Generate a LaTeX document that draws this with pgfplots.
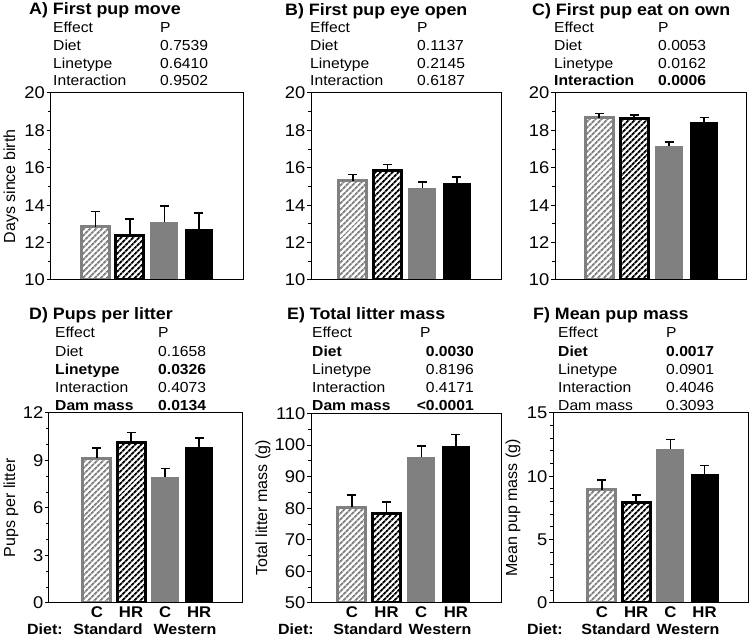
\documentclass[border=0pt]{standalone}
\usepackage{fontspec}
\setmainfont{Liberation Sans}[FakeStretch=1.08, BoldFeatures={FakeStretch=1.08}]
\newfontfamily\plainfont{Liberation Sans}
\usepackage{pgfplots}
\pgfplotsset{compat=1.18}
\usetikzlibrary{patterns.meta}
\definecolor{bgray}{RGB}{128,128,128}
\newcommand\fs[1]{\fontsize{#1}{#1}\selectfont}

\pgfplotsset{
  panel/.style={scale only axis, anchor=south west, axis on top, clip=true,
    axis line style={line width=1pt}, tick style={line width=1pt, black},
    major tick length=4pt, minor tick length=3pt, tick align=outside,
    ytick pos=left, xtick style={draw=none},
    /pgf/number format/assume math mode=true,
    yticklabel style={font=\fs{17}, inner sep=1.5pt},
    xticklabel style={font=\bfseries\fs{15.5}, anchor=base, inner sep=0pt, yshift=-11pt},
  },
  toprow/.style={panel, height=187pt, ymin=10, ymax=20, ytick={10,12,...,20}, minor y tick num=1, xtick=\empty},
  botrow/.style={panel, height=190pt, xtick={0,1,2,3}, xticklabels={C,HR,C,HR}},
  errs/.style={/pgfplots/error bars/y dir=plus, /pgfplots/error bars/y explicit,
    /pgfplots/error bars/error bar style={line width=1.5pt, black, solid},
    /pgfplots/error bars/error mark options={line width=1.5pt, black, solid, mark size=4.5pt, rotate=90}},
  bA/.style={ybar, bar width=28pt, bar shift=0pt, draw=bgray, line width=3pt, preaction={fill=white},
    pattern={Lines[angle=45,distance=4pt,line width=2pt]}, pattern color=bgray, errs},
  bB/.style={ybar, bar width=28pt, bar shift=0pt, draw=black, line width=3pt, preaction={fill=white},
    pattern={Lines[angle=45,distance=4pt,line width=2pt]}, pattern color=black, errs},
  bC/.style={ybar, bar width=28pt, bar shift=0pt, fill=bgray, draw=none, errs},
  bD/.style={ybar, bar width=28pt, bar shift=0pt, fill=black, draw=none, errs},
}
\tikzset{
  st/.style={anchor=base west, inner sep=0pt, font=\fs{14.5}},
  sb/.style={anchor=base west, inner sep=0pt, font=\bfseries\fs{14.5}},
  tt/.style={anchor=base west, inner sep=0pt, font=\bfseries\fs{16.5}},
  yl/.style={anchor=base, inner sep=0pt, rotate=90, font=\plainfont\fs{16}},
  bl/.style={inner sep=0pt, font=\bfseries\fs{14.8}},
}

\begin{document}
\begin{tikzpicture}
\path[use as bounding box] (0pt,0pt) rectangle (750pt,639pt);

% ---------- A ----------
\begin{axis}[toprow, at={(50.5pt,359pt)}, width=193pt, xmin=-1.30, xmax=4.29]
\addplot[bA] coordinates {(0,12.85) +- (0,0.81)};
\addplot[bB] coordinates {(1,12.37) +- (0,0.88)};
\addplot[bC] coordinates {(2,13.11) +- (0,0.85)};
\addplot[bD] coordinates {(3,12.72) +- (0,0.85)};
\end{axis}
% ---------- B ----------
\begin{axis}[toprow, at={(311pt,359pt)}, width=190pt, xmin=-1.21, xmax=4.27]
\addplot[bA] coordinates {(0,15.30) +- (0,0.35)};
\addplot[bB] coordinates {(1,15.83) +- (0,0.35)};
\addplot[bC] coordinates {(2,14.92) +- (0,0.32)};
\addplot[bD] coordinates {(3,15.19) +- (0,0.32)};
\end{axis}
% ---------- C ----------
\begin{axis}[toprow, at={(555pt,359pt)}, width=191pt, xmin=-1.26, xmax=4.20]
\addplot[bA] coordinates {(0,18.68) +- (0,0.22)};
\addplot[bB] coordinates {(1,18.62) +- (0,0.21)};
\addplot[bC] coordinates {(2,17.16) +- (0,0.21)};
\addplot[bD] coordinates {(3,18.47) +- (0,0.22)};
\end{axis}
% ---------- D ----------
\begin{axis}[botrow, at={(49pt,36pt)}, width=194pt, xmin=-1.41, xmax=4.29,
  ymin=0, ymax=12, ytick={0,3,...,12}, minor y tick num=2]
\addplot[bA] coordinates {(0,9.15) +- (0,0.63)};
\addplot[bB] coordinates {(1,10.16) +- (0,0.61)};
\addplot[bC] coordinates {(2,7.94) +- (0,0.57)};
\addplot[bD] coordinates {(3,9.84) +- (0,0.57)};
\end{axis}
% ---------- E ----------
\begin{axis}[botrow, at={(311pt,36pt)}, width=190pt, height=189.5pt, xmin=-1.18, xmax=4.30,
  ymin=50, ymax=110, ytick={50,60,...,110}, minor y tick num=1]
\addplot[bA] coordinates {(0,80.3) +- (0,3.9)};
\addplot[bB] coordinates {(1,78.4) +- (0,3.5)};
\addplot[bC] coordinates {(2,96.1) +- (0,3.6)};
\addplot[bD] coordinates {(3,99.8) +- (0,3.6)};
\end{axis}
% ---------- F ----------
\begin{axis}[botrow, at={(553pt,36pt)}, width=195pt, xmin=-1.43, xmax=4.27,
  ymin=0, ymax=15, ytick={0,5,10,15}, minor y tick num=4]
\addplot[bA] coordinates {(0,8.93) +- (0,0.78)};
\addplot[bB] coordinates {(1,7.90) +- (0,0.64)};
\addplot[bC] coordinates {(2,12.17) +- (0,0.74)};
\addplot[bD] coordinates {(3,10.16) +- (0,0.71)};
\end{axis}

% ---------- titles ----------
\node[tt] at (29pt,624pt) {A) First pup move};
\node[tt] at (285pt,623pt) {B) First pup eye open};
\node[tt] at (532pt,623pt) {C) First pup eat on own};
\node[tt] at (29pt,319pt) {D) Pups per litter};
\node[tt] at (287pt,319pt) {E) Total litter mass};
\node[tt] at (533pt,319pt) {F) Mean pup mass};

% ---------- stats A ----------
\node[st] at (53pt,606pt) {Effect};      \node[st] at (160pt,606pt) {P};
\node[st] at (53pt,588pt) {Diet};        \node[st] at (160pt,588pt) {0.7539};
\node[st] at (53pt,570.5pt) {Linetype};  \node[st] at (160pt,570.5pt) {0.6410};
\node[st] at (53pt,553pt) {Interaction}; \node[st] at (160pt,553pt) {0.9502};
% ---------- stats B ----------
\node[st] at (310pt,606pt) {Effect};      \node[st] at (417pt,606pt) {P};
\node[st] at (310pt,588pt) {Diet};        \node[st] at (417pt,588pt) {0.1137};
\node[st] at (310pt,570.5pt) {Linetype};  \node[st] at (417pt,570.5pt) {0.2145};
\node[st] at (310pt,553pt) {Interaction}; \node[st] at (417pt,553pt) {0.6187};
% ---------- stats C ----------
\node[st] at (554pt,606pt) {Effect};      \node[st] at (658pt,606pt) {P};
\node[st] at (554pt,588pt) {Diet};        \node[st] at (658pt,588pt) {0.0053};
\node[st] at (554pt,570.5pt) {Linetype};  \node[st] at (658pt,570.5pt) {0.0162};
\node[sb] at (554pt,553pt) {Interaction}; \node[sb] at (658pt,553pt) {0.0006};
% ---------- stats D ----------
\node[st] at (55pt,301pt) {Effect};      \node[st] at (158pt,301pt) {P};
\node[st] at (55pt,282.5pt) {Diet};      \node[st] at (158pt,282.5pt) {0.1658};
\node[sb] at (55pt,264.5pt) {Linetype};  \node[sb] at (158pt,264.5pt) {0.0326};
\node[st] at (55pt,246.5pt) {Interaction}; \node[st] at (158pt,246.5pt) {0.4073};
\node[sb] at (55pt,228.5pt) {Dam mass};  \node[sb] at (158pt,228.5pt) {0.0134};
% ---------- stats E ----------
\node[st] at (312pt,301pt) {Effect};      \node[st] at (420pt,301pt) {P};
\node[sb] at (312pt,282.5pt) {Diet};  \node[sb,anchor=base east] at (474pt,282.5pt) {0.0030};
\node[st] at (312pt,264.5pt) {Linetype};  \node[st,anchor=base east] at (474pt,264.5pt) {0.8196};
\node[st] at (312pt,246.5pt) {Interaction}; \node[st,anchor=base east] at (474pt,246.5pt) {0.4171};
\node[sb] at (312pt,228.5pt) {Dam mass};  \node[sb,anchor=base east] at (474pt,228.5pt) {<0.0001};
% ---------- stats F ----------
\node[st] at (558pt,301pt) {Effect};      \node[st] at (666pt,301pt) {P};
\node[sb] at (558pt,282.5pt) {Diet};  \node[sb] at (666pt,282.5pt) {0.0017};
\node[st] at (558pt,264.5pt) {Linetype};  \node[st] at (666pt,264.5pt) {0.0901};
\node[st] at (558pt,246.5pt) {Interaction}; \node[st] at (666pt,246.5pt) {0.4046};
\node[st] at (558pt,228.5pt) {Dam mass};  \node[st] at (666pt,228.5pt) {0.3093};

% ---------- y labels ----------
\node[yl] at (15pt,452.5pt) {Days since birth};
\node[yl] at (15pt,131pt) {Pups per litter};
\node[yl] at (267pt,131pt) {Total litter mass (g)};
\node[yl] at (517pt,131pt) {Mean pup mass (g)};

% ---------- diet labels ----------
\node[bl,anchor=base west] at (27pt,4pt) {Diet:};
\node[bl,anchor=base] at (108pt,4pt) {Standard};
\node[bl,anchor=base] at (185pt,4pt) {Western};
\node[bl,anchor=base west] at (278pt,4pt) {Diet:};
\node[bl,anchor=base] at (368pt,4pt) {Standard};
\node[bl,anchor=base] at (440pt,4pt) {Western};
\node[bl,anchor=base west] at (527pt,4pt) {Diet:};
\node[bl,anchor=base] at (616pt,4pt) {Standard};
\node[bl,anchor=base] at (688pt,4pt) {Western};
\end{tikzpicture}
\end{document}
